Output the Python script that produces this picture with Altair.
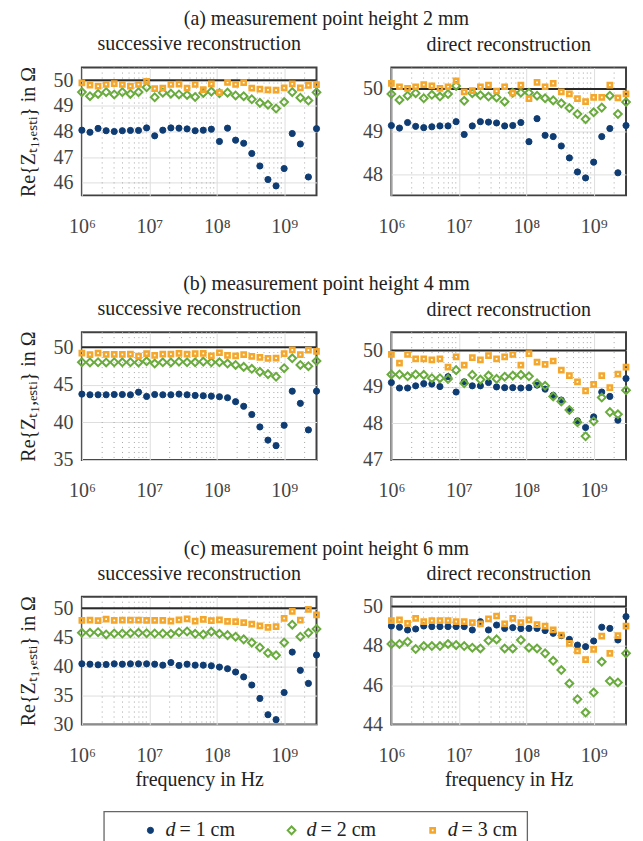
import altair as alt
import pandas as pd

# ---------------- data ----------------
freq = [1.000e6, 1.318e6, 1.737e6, 2.289e6, 3.017e6, 3.977e6, 5.241e6, 6.908e6, 9.104e6,
        1.200e7, 1.582e7, 2.085e7, 2.748e7, 3.621e7, 4.773e7, 6.291e7, 8.291e7,
        1.093e8, 1.440e8, 1.897e8, 2.500e8, 3.296e8, 4.344e8, 5.725e8, 7.546e8, 9.946e8,
        1.311e9, 1.728e9, 2.276e9, 3.000e9]

series = ["d = 1 cm", "d = 2 cm", "d = 3 cm"]
legend_var = ["d", "d", "d"]
legend_rest = ["= 1 cm", "= 2 cm", "= 3 cm"]

a_succ_d1 = [48.05, 47.97, 48.12, 48.03, 48.00, 48.03, 48.04, 48.04, 48.14, 47.83, 48.05, 48.14, 48.13, 48.10, 48.03,
             48.05, 48.09, 47.61, 48.13, 47.66, 47.54, 47.14, 46.65, 46.12, 45.87, 46.55, 47.92, 47.51, 46.22, 48.11]
a_succ_d2 = [49.54, 49.38, 49.47, 49.54, 49.45, 49.54, 49.47, 49.54, 49.73, 49.34, 49.52, 49.48, 49.45, 49.43, 49.35,
             49.51, 49.56, 49.50, 49.52, 49.41, 49.38, 49.26, 49.12, 49.05, 48.90, 49.15, 49.54, 49.32, 49.21, 49.53]
a_succ_d3 = [49.90, 49.81, 49.77, 49.84, 49.87, 49.84, 49.77, 49.84, 49.96, 49.68, 49.70, 49.84, 49.85, 49.70, 49.84,
             49.64, 49.86, 49.52, 49.92, 49.84, 49.91, 49.70, 49.66, 49.63, 49.62, 49.71, 49.86, 49.71, 49.80, 49.83]

a_dir_d1 = [49.14, 49.08, 49.21, 49.12, 49.09, 49.11, 49.13, 49.13, 49.23, 48.93, 49.13, 49.23, 49.22, 49.20, 49.13,
            49.14, 49.21, 48.76, 49.30, 48.91, 48.88, 48.66, 48.38, 48.05, 47.91, 48.28, 48.88, 49.07, 48.03, 49.14]
a_dir_d2 = [49.88, 49.74, 49.84, 49.90, 49.78, 49.86, 49.82, 49.88, 50.07, 49.72, 49.90, 49.85, 49.82, 49.80, 49.70,
            49.91, 49.91, 49.91, 49.84, 49.78, 49.73, 49.66, 49.55, 49.41, 49.29, 49.45, 49.56, 49.84, 49.41, 49.69]
a_dir_d3 = [50.13, 50.05, 50.01, 50.05, 50.10, 50.07, 50.01, 50.05, 50.19, 49.93, 49.96, 50.05, 50.09, 49.95, 50.05,
            49.90, 50.09, 49.77, 50.15, 50.05, 50.13, 49.93, 49.88, 49.77, 49.70, 49.80, 49.80, 50.09, 49.79, 49.88]

b_succ_d1 = [43.76, 43.67, 43.67, 43.67, 43.71, 43.71, 43.67, 44.02, 43.45, 43.71, 43.67, 43.67, 43.76, 43.67, 43.58,
             43.54, 43.49, 43.41, 43.28, 42.75, 42.14, 41.05, 39.39, 37.64, 36.90, 39.61, 44.15, 42.53, 39.00, 44.15]
b_succ_d2 = [48.00, 47.98, 48.00, 47.97, 48.00, 47.99, 48.00, 47.97, 48.12, 47.82, 47.99, 47.98, 48.08, 47.99, 47.99,
             48.08, 47.99, 47.99, 47.82, 47.64, 47.38, 47.12, 46.72, 46.42, 46.07, 47.21, 48.52, 47.64, 47.47, 48.17]
b_succ_d3 = [49.21, 49.00, 49.21, 49.04, 49.04, 49.04, 49.08, 48.82, 49.13, 48.91, 49.08, 49.08, 49.17, 49.08, 49.13,
             49.17, 48.86, 49.26, 48.91, 48.86, 49.00, 48.78, 48.65, 48.52, 48.54, 49.13, 49.65, 49.00, 49.61, 49.43]

b_dir_d1 = [49.12, 48.97, 48.97, 49.03, 49.09, 49.08, 49.01, 49.28, 48.86, 49.14, 49.03, 49.03, 49.12, 49.00, 48.98,
            48.98, 48.97, 48.98, 49.05, 48.94, 48.77, 48.64, 48.37, 48.07, 47.89, 48.18, 48.86, 48.74, 48.09, 49.23]
b_dir_d2 = [49.34, 49.34, 49.29, 49.34, 49.33, 49.24, 49.24, 49.22, 49.46, 49.10, 49.33, 49.20, 49.31, 49.22, 49.28,
            49.31, 49.33, 49.29, 49.10, 49.03, 48.74, 48.60, 48.37, 48.03, 47.65, 48.06, 48.71, 48.31, 48.25, 48.91]
b_dir_d3 = [49.89, 49.65, 49.89, 49.77, 49.77, 49.74, 49.77, 49.54, 49.82, 49.60, 49.80, 49.74, 49.86, 49.77, 49.82,
            49.89, 49.60, 49.91, 49.68, 49.62, 49.71, 49.46, 49.31, 49.14, 48.89, 49.07, 49.31, 48.98, 49.35, 49.54]

c_succ_d1 = [40.45, 40.39, 40.28, 40.34, 40.45, 40.39, 40.45, 40.45, 40.45, 40.39, 40.22, 40.67, 40.17, 40.39, 40.22,
             40.22, 40.11, 39.89, 39.61, 39.04, 38.20, 36.80, 34.49, 31.69, 30.84, 35.51, 42.47, 39.33, 37.08, 41.97]
c_succ_d2 = [45.79, 45.79, 45.90, 45.51, 45.67, 45.67, 45.73, 45.79, 45.73, 45.67, 45.67, 45.62, 45.90, 46.01, 45.62,
             45.51, 45.96, 45.62, 45.39, 45.11, 44.66, 44.10, 43.26, 42.30, 41.91, 44.10, 47.19, 45.11, 45.78, 46.46]
c_succ_d3 = [47.92, 47.98, 47.87, 48.15, 47.92, 47.98, 47.98, 47.98, 47.92, 47.92, 47.92, 47.81, 48.03, 48.20, 47.81,
             48.09, 47.87, 48.03, 47.75, 47.70, 47.53, 47.30, 46.97, 46.74, 46.85, 48.26, 49.49, 47.98, 49.83, 48.88]

c_dir_d1 = [49.01, 48.95, 48.81, 48.86, 49.01, 48.98, 48.98, 48.98, 48.98, 48.98, 48.81, 49.23, 48.81, 49.06, 48.89,
            48.93, 48.88, 48.89, 48.89, 48.78, 48.64, 48.52, 48.33, 48.04, 47.96, 48.25, 48.95, 48.89, 48.30, 49.49]
c_dir_d2 = [48.10, 48.10, 48.21, 47.84, 47.99, 47.99, 47.99, 48.10, 48.04, 47.99, 47.91, 47.87, 48.27, 48.33, 47.87,
            47.87, 48.30, 47.91, 47.87, 47.62, 47.24, 46.77, 46.09, 45.29, 44.61, 45.63, 47.19, 46.21, 46.14, 47.62]
c_dir_d3 = [49.29, 49.32, 49.15, 49.40, 49.23, 49.29, 49.29, 49.29, 49.23, 49.23, 49.18, 49.12, 49.37, 49.52, 49.12,
            49.40, 49.18, 49.32, 49.08, 49.01, 48.81, 48.55, 48.13, 47.74, 47.30, 47.82, 48.50, 47.62, 48.52, 49.01]

row_titles = ["(a) measurement point height 2 mm",
              "(b) measurement point height 4 mm",
              "(c) measurement point height 6 mm"]
col_titles = ["successive reconstruction", "direct reconstruction"]
y_domains = [[[45.5, 50.5], [47.5, 50.5]], [[35, 52], [47, 50.5]], [[30, 52], [44, 50.5]]]
y_ticks = [[[46, 47, 48, 49, 50], [48, 49, 50]], [[35, 40, 45, 50], [47, 48, 49, 50]],
           [[30, 35, 40, 45, 50], [44, 46, 48, 50]]]
x_major = [1e6, 1e7, 1e8, 1e9]
x_minor = [m * 10 ** k for k in (6, 7, 8) for m in range(2, 10)] + [2e9]
ref_level = [50]

# ---------------- style ----------------
SERIF = "Liberation Serif"
BLUE, GREEN, ORANGE = "#0f3d73", "#6aab3d", "#f4a72b"
MARK_SIZE = [38, 60, 18]
MARK_STROKE = [1, 2, 2.5]
Y_TITLE = "Re{Zₜ₁,ₑₛₜᵢ} in Ω"
LABEL_EXPR = ("datum.value == 1e6 ? '10⁶' : datum.value == 1e7 ? '10⁷' : "
              "datum.value == 1e8 ? '10⁸' : '10⁹'")

shape_enc = alt.Shape("s:N", scale=alt.Scale(domain=series, range=["circle", "diamond", "square"]),
                      legend=None)
stroke_enc = alt.Stroke("s:N", scale=alt.Scale(domain=series, range=[BLUE, GREEN, ORANGE]), legend=None)
fill_enc = alt.Fill("s:N", scale=alt.Scale(domain=series, range=[BLUE, "transparent", "transparent"]),
                    legend=None)


def panel(vals, ydom, yticks, sub, left, bottom):
    xaxis = dict(values=x_major, labelExpr=LABEL_EXPR, labelPadding=21, labelFontSize=20,
                 labelFont=SERIF, labelColor="#444444", labelFlush=False, title=None)
    if bottom:
        xaxis.update(title="frequency in Hz", titlePadding=4)
    yaxis = dict(values=yticks, labelPadding=9, labelFont=SERIF, labelFontSize=20,
                 labelColor="#444444", title=None)
    if left:
        yaxis.update(title=Y_TITLE, titlePadding=14)
    xenc = alt.X("f:Q", scale=alt.Scale(type="log", domain=[1e6, 3e9], nice=False),
                 axis=alt.Axis(**xaxis))
    yenc = alt.Y("v:Q", scale=alt.Scale(domain=ydom, nice=False, zero=False),
                 axis=alt.Axis(**yaxis))
    layers = [
        alt.Chart(pd.DataFrame({"f": x_minor})).mark_rule(
            color="#a6a6a6", strokeDash=[1, 4], strokeWidth=1).encode(x=xenc),
        alt.Chart(pd.DataFrame({"v": ref_level})).mark_rule(
            color="#2a2a2a", strokeWidth=2).encode(y=yenc),
    ]
    for i in range(3):
        df = pd.DataFrame({"f": freq, "v": vals[i], "s": [series[i]] * len(freq)})
        layers.append(
            alt.Chart(df).mark_point(opacity=1, size=MARK_SIZE[i], strokeWidth=MARK_STROKE[i]).encode(
                x=xenc, y=yenc, shape=shape_enc, stroke=stroke_enc, fill=fill_enc)
        )
    return alt.layer(*layers).properties(
        width=235, height=128,
        title=alt.TitleParams(sub, anchor="middle", frame="group", offset=12,
                              fontSize=20, font=SERIF, fontWeight="normal", color="#222222"))


all_vals = [[[a_succ_d1, a_succ_d2, a_succ_d3], [a_dir_d1, a_dir_d2, a_dir_d3]],
            [[b_succ_d1, b_succ_d2, b_succ_d3], [b_dir_d1, b_dir_d2, b_dir_d3]],
            [[c_succ_d1, c_succ_d2, c_succ_d3], [c_dir_d1, c_dir_d2, c_dir_d3]]]

shared = dict(shape="shared", stroke="shared", fill="shared")

rows = []
for r in range(3):
    panels = [panel(all_vals[r][c], y_domains[r][c], y_ticks[r][c], col_titles[c], c == 0, r == 2)
              for c in range(2)]
    row = alt.hconcat(*panels, spacing=36).properties(
        title=alt.TitleParams(row_titles[r], anchor="middle", offset=4, fontSize=20,
                              font=SERIF, fontWeight="normal", color="#222222")
    ).resolve_scale(x="independent", y="independent", **shared)
    rows.append(row)

grid = alt.vconcat(*rows, spacing=36).resolve_scale(x="independent", y="independent", **shared)

# ---------------- legend (own small chart, same scales) ----------------
leg_df = pd.DataFrame({"s": series, "var": legend_var, "rest": legend_rest})
lx = alt.X("s:N", axis=None, scale=alt.Scale(domain=series, paddingInner=0, paddingOuter=0))
leg_layers = []
for i in range(3):
    leg_layers.append(
        alt.Chart(leg_df.iloc[[i]]).mark_point(opacity=1, size=MARK_SIZE[i], strokeWidth=MARK_STROKE[i],
                                                xOffset=-24).encode(
            x=lx, shape=shape_enc, stroke=stroke_enc, fill=fill_enc)
    )
leg_layers.append(alt.Chart(leg_df).mark_text(align="left", dx=-9, font=SERIF, fontSize=20,
                                              fontStyle="italic", color="#222222").encode(x=lx, text="var:N"))
leg_layers.append(alt.Chart(leg_df).mark_text(align="left", dx=5, font=SERIF, fontSize=20,
                                              color="#222222").encode(x=lx, text="rest:N"))
legend_chart = alt.layer(*leg_layers).properties(
    width=424, height=38, view=alt.ViewBackground(stroke="#666666", strokeWidth=1.3))

legend_pad = alt.Chart(pd.DataFrame({"s": series})).mark_point(opacity=0).properties(
    width=20, height=38, view=alt.ViewBackground(stroke="transparent"))

legend_row = alt.hconcat(legend_pad, legend_chart, spacing=0).resolve_scale(
    x="independent", y="independent", **shared)

chart = alt.vconcat(grid, legend_row, spacing=20).resolve_scale(
    x="independent", y="independent", **shared
).properties(
    padding={"left": 10, "top": 0, "right": 0, "bottom": 0}
).configure_view(
    stroke="#404040", strokeWidth=2
).configure_axis(
    domain=False, ticks=False, grid=True, gridColor="#dedede", gridWidth=1,
    labelFont=SERIF, labelFontSize=20, labelColor="#444444",
    titleFont=SERIF, titleFontSize=20, titleFontWeight="normal", titleColor="#222222"
).configure_title(font=SERIF)

chart.save("out.html", embed_options={"renderer": "svg", "actions": False})
